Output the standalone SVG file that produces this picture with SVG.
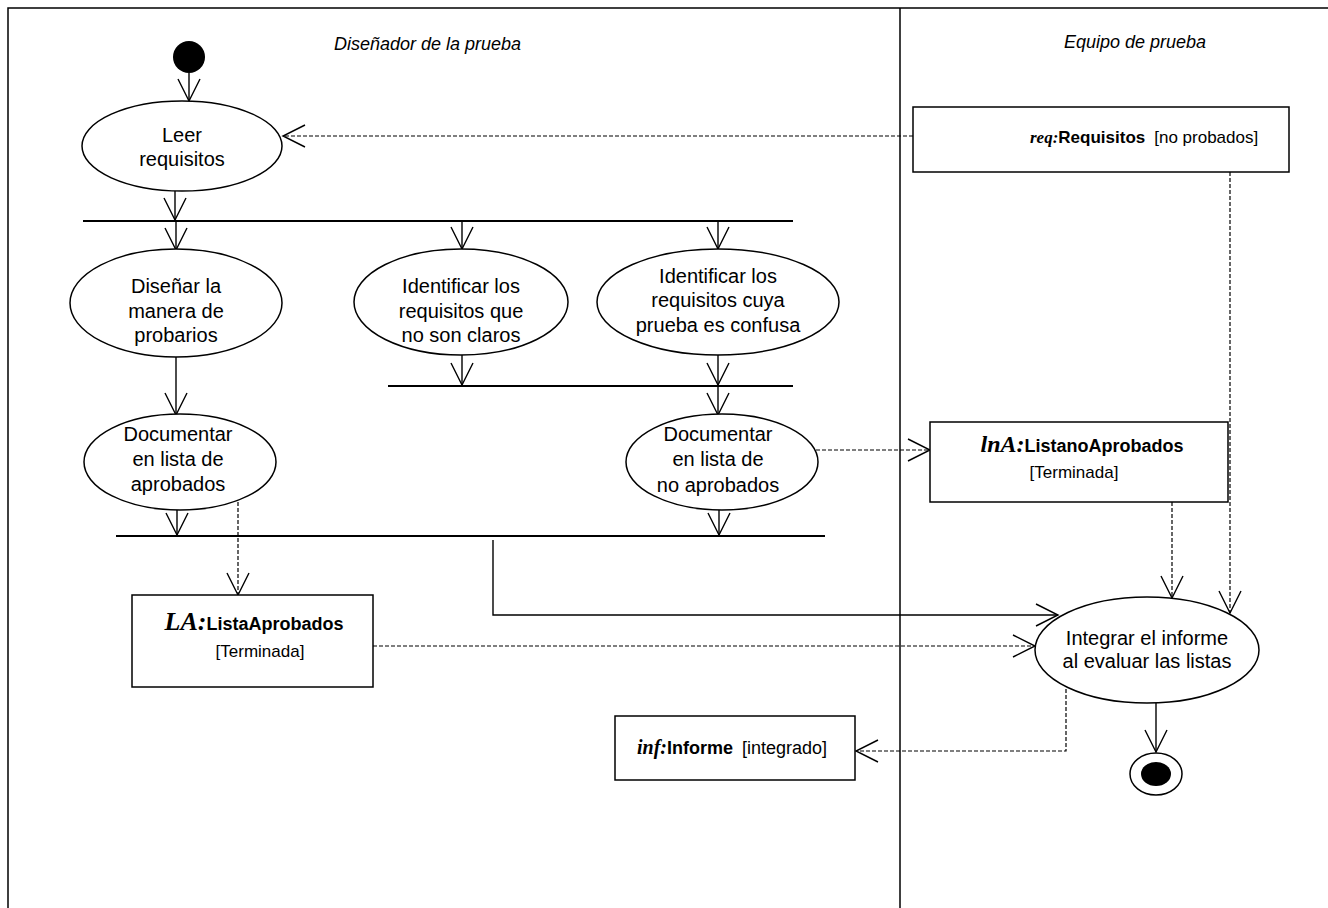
<svg xmlns="http://www.w3.org/2000/svg" width="1328" height="908" viewBox="0 0 1328 908">
  <style>
    .frame { stroke: #000; stroke-width: 1.5; fill: none; }
    .lane-title { font-family: "Liberation Sans", Arial, sans-serif; font-style: italic; font-size: 18px; fill: #000; }
    .act ellipse { fill: #fff; stroke: #000; stroke-width: 1.5; }
    .act text { font-family: "Liberation Sans", Arial, sans-serif; font-size: 20px; text-anchor: middle; fill: #000; }
    .obj rect { fill: #fff; stroke: #000; stroke-width: 1.5; }
    .obj text { font-family: "Liberation Sans", Arial, sans-serif; font-size: 17px; fill: #000; }
    .obj .nm { font-family: "Liberation Serif", "Times New Roman", serif; font-style: italic; font-weight: bold; }
    .obj .cls { font-weight: bold; }
    .bar { stroke: #000; stroke-width: 2.2; }
    .flow { fill: none; stroke: #000; stroke-width: 1.4; marker-end: url(#open); }
    .oflow { fill: none; stroke: #000; stroke-width: 1.2; stroke-dasharray: 4 2; marker-end: url(#open); }
  </style>
  <defs>
    <marker id="open" markerUnits="userSpaceOnUse" markerWidth="26" markerHeight="24" viewBox="0 0 26 24" refX="23" refY="12" orient="auto">
      <path d="M1,1 L23,12 L1,23" fill="none" stroke="#000" stroke-width="1.4" stroke-dasharray="none"/>
    </marker>
  </defs>

  <rect width="1328" height="908" fill="#fff"/>

  <!-- swimlanes -->
  <g id="lanes">
    <path class="frame" d="M8,908 V8 H1328"/>
    <path class="frame" d="M900,8 V908"/>
    <text class="lane-title" x="334" y="50">Diseñador de la prueba</text>
    <text class="lane-title" x="1135" y="48" text-anchor="middle">Equipo de prueba</text>
  </g>

  <!-- connectors -->
  <g id="connectors">
    <path class="flow" d="M189,73 V101"/>
    <path class="flow" d="M175,191 V220"/>
    <path class="flow" d="M176,222 V250"/>
    <path class="flow" d="M462,222 V249"/>
    <path class="flow" d="M718,222 V249"/>
    <path class="flow" d="M176,357 V415"/>
    <path class="flow" d="M462,355 V385"/>
    <path class="flow" d="M718,355 V385"/>
    <path class="flow" d="M718,387 V415"/>
    <path class="flow" d="M177,510 V535"/>
    <path class="flow" d="M719,510 V535"/>
    <path class="flow" d="M493,540 V615 H1058"/>
    <path class="flow" d="M1156,703 V752"/>
    <path class="oflow" d="M913,136 H283"/>
    <path class="oflow" d="M1230,172 V613"/>
    <path class="oflow" d="M238,502 V595"/>
    <path class="oflow" d="M373,646 H1035"/>
    <path class="oflow" d="M816,450 H930"/>
    <path class="oflow" d="M1172,502 V598"/>
    <path class="oflow" d="M1066,689 V751 H856"/>
  </g>

  <!-- synchronisation bars -->
  <g id="fork1"><line class="bar" x1="83" y1="221" x2="793" y2="221"/></g>
  <g id="join1"><line class="bar" x1="388" y1="386" x2="793" y2="386"/></g>
  <g id="join2"><line class="bar" x1="116" y1="536" x2="825" y2="536"/></g>

  <!-- start / end -->
  <g id="start"><circle cx="189" cy="57" r="16" fill="#000"/></g>
  <g id="end">
    <ellipse cx="1156" cy="774" rx="26" ry="21" fill="#fff" stroke="#000" stroke-width="1.5"/>
    <ellipse cx="1156" cy="774" rx="15" ry="12" fill="#000"/>
  </g>

  <!-- activities -->
  <g id="leer" class="act">
    <ellipse cx="182" cy="146" rx="100" ry="45"/>
    <text x="182" y="142">Leer</text>
    <text x="182" y="166">requisitos</text>
  </g>
  <g id="disenar" class="act">
    <ellipse cx="176" cy="303" rx="106" ry="54"/>
    <text x="176" y="293">Diseñar la</text>
    <text x="176" y="318">manera de</text>
    <text x="176" y="342">probarios</text>
  </g>
  <g id="identificar-claros" class="act">
    <ellipse cx="461" cy="302" rx="107" ry="53"/>
    <text x="461" y="293">Identificar los</text>
    <text x="461" y="318">requisitos que</text>
    <text x="461" y="342">no son claros</text>
  </g>
  <g id="identificar-confusa" class="act">
    <ellipse cx="718" cy="302" rx="121" ry="53"/>
    <text x="718" y="283">Identificar los</text>
    <text x="718" y="307">requisitos cuya</text>
    <text x="718" y="332">prueba es confusa</text>
  </g>
  <g id="doc-aprobados" class="act">
    <ellipse cx="180" cy="462" rx="96" ry="48"/>
    <text x="178" y="441">Documentar</text>
    <text x="178" y="466">en lista de</text>
    <text x="178" y="491">aprobados</text>
  </g>
  <g id="doc-no-aprobados" class="act">
    <ellipse cx="722" cy="462" rx="96" ry="48"/>
    <text x="718" y="441">Documentar</text>
    <text x="718" y="466">en lista de</text>
    <text x="718" y="492">no aprobados</text>
  </g>
  <g id="integrar" class="act">
    <ellipse cx="1147" cy="650" rx="112" ry="53"/>
    <text x="1147" y="645">Integrar el informe</text>
    <text x="1147" y="668">al evaluar las listas</text>
  </g>

  <!-- object nodes -->
  <g id="requisitos" class="obj">
    <rect x="913" y="107" width="376" height="65"/>
    <text x="1030" y="143"><tspan class="nm">req:</tspan><tspan class="cls">Requisitos</tspan><tspan dx="9">[no probados]</tspan></text>
  </g>
  <g id="lista-aprobados" class="obj">
    <rect x="132" y="595" width="241" height="92"/>
    <text x="254" y="630" text-anchor="middle"><tspan class="nm" font-size="26">LA:</tspan><tspan class="cls" font-size="18">ListaAprobados</tspan></text>
    <text x="260" y="657" text-anchor="middle">[Terminada]</text>
  </g>
  <g id="lista-no-aprobados" class="obj">
    <rect x="930" y="422" width="298" height="80"/>
    <text x="1082" y="452" text-anchor="middle"><tspan class="nm" font-size="24">lnA:</tspan><tspan class="cls" font-size="18">ListanoAprobados</tspan></text>
    <text x="1074" y="478" text-anchor="middle">[Terminada]</text>
  </g>
  <g id="informe" class="obj">
    <rect x="615" y="716" width="240" height="64"/>
    <text x="637" y="754"><tspan class="nm" font-size="20">inf:</tspan><tspan class="cls" font-size="18">Informe</tspan><tspan dx="9" font-size="18">[integrado]</tspan></text>
  </g>
</svg>
